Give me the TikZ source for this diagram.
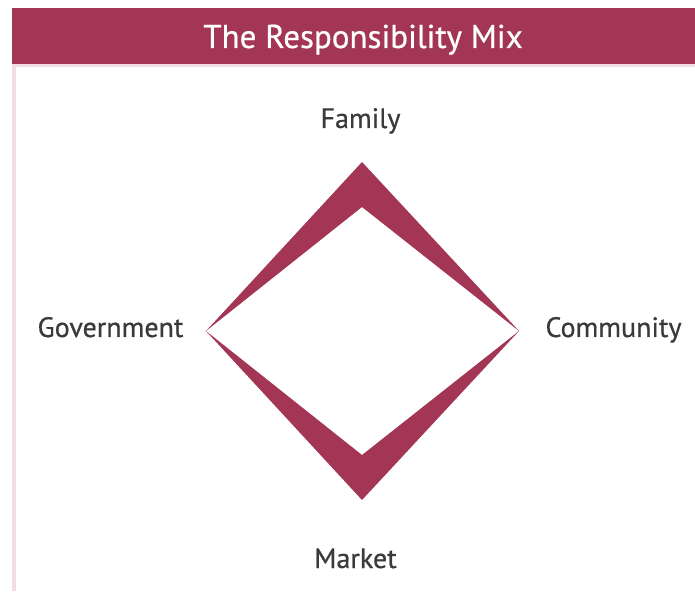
\documentclass[tikz,border=0pt]{standalone}
\usepackage{fontspec}
\setmainfont{PT Sans}
\newfontfamily\labelfont[FakeBold=0.6]{PT Sans}
\definecolor{wine}{RGB}{163,53,85}
\definecolor{blush}{RGB}{242,222,224}
\definecolor{ink}{RGB}{58,58,58}
\begin{document}
\begin{tikzpicture}[x=1pt,y=1pt,
  label/.style={inner sep=0pt,anchor=base,text=ink,font=\labelfont\fontsize{28}{31}\selectfont},
  heading/.style={inner sep=0pt,anchor=base,text=white,font=\labelfont\fontsize{33}{36}\selectfont}]
  \useasboundingbox (0,0) rectangle (695,591);
  % frame: light edge and title band
  \fill[blush] (12,0) rectangle (15.5,527);
  \fill[blush] (12,524) rectangle (695,527);
  \fill[wine] (12,527) rectangle (695,583);
  \node[heading] (title) at (363,543) {The Responsibility Mix};
  % corner points of the diamond
  \coordinate (L) at (206,260);
  \coordinate (R) at (519,260);
  \coordinate (T) at (362,429);
  \coordinate (Ti) at (362,384);
  \coordinate (B) at (362,91);
  \coordinate (Bi) at (362,136);
  \fill[wine] (L) -- (T) -- (R) -- (Ti) -- cycle;
  \fill[wine] (L) -- (B) -- (R) -- (Bi) -- cycle;
  % labels
  \node[label] (family) at (360.5,463) {Family};
  \node[label] (gov) at (110.5,254) {Government};
  \node[label] (comm) at (613.5,254) {Community};
  \node[label] (market) at (355.5,23) {Market};
\end{tikzpicture}
\end{document}
